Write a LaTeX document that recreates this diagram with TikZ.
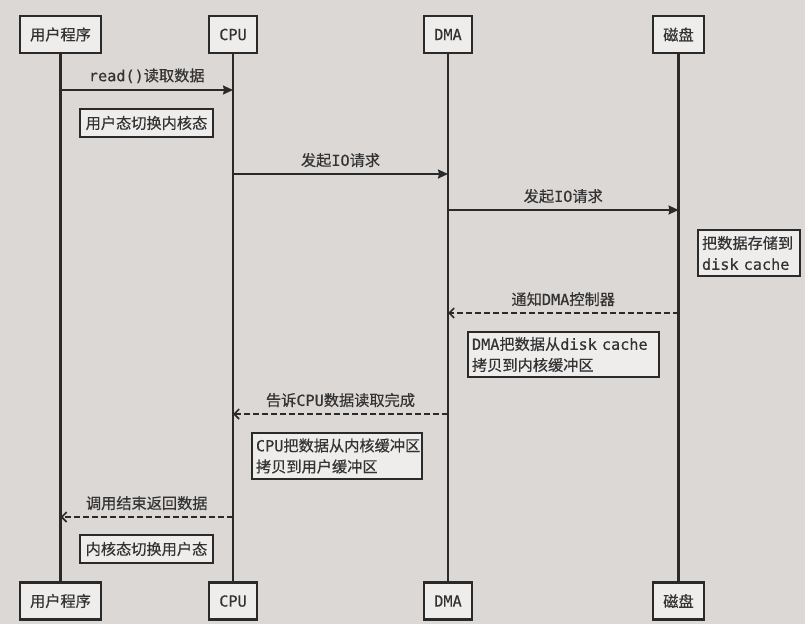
\documentclass[tikz,border=0pt]{standalone}
\usepackage{fontspec}
\setmainfont{Noto Sans CJK SC}[FakeBold=0.4]
\setmonofont{DejaVu Sans Mono}[FakeBold=0.4]
\usetikzlibrary{arrows.meta}
\definecolor{bg}{HTML}{DBD8D6}
\definecolor{boxfill}{HTML}{EEEDEC}
\definecolor{ink}{HTML}{2A2A2A}
\definecolor{txt}{HTML}{333333}
\tikzset{
  actor/.style={draw=ink, line width=2.2pt, fill=boxfill, minimum height=37pt, inner sep=0pt, text=txt, font=\fontsize{15.2}{18}\selectfont},
  note/.style={draw=ink, line width=2pt, fill=boxfill, align=left, inner sep=0pt, text=txt, font=\fontsize{15.2}{21}\selectfont},
  life/.style={ink, line width=2.2pt},
  msg/.style={ink, line width=1.6pt, -{Stealth[length=10pt,width=9pt,inset=1pt]}},
  ret/.style={ink, line width=1.6pt, dash pattern=on 6pt off 3pt, -{Straight Barb[length=5pt,width=10pt]}},
  lbl/.style={font=\fontsize{15.2}{18}\selectfont, inner sep=0pt, text=txt}
}
\begin{document}
\begin{tikzpicture}[x=1pt,y=-1pt]
\fill[bg] (0,0) rectangle (805,624);
\useasboundingbox (0,0) rectangle (805,624);
% actors top
\node[actor, minimum width=81pt] (u1) at (60.5,34.5) {用户程序};
\node[actor, minimum width=48pt] (c1) at (233,34.5) {\texttt{CPU}};
\node[actor, minimum width=48pt] (d1) at (448,34.5) {\texttt{DMA}};
\node[actor, minimum width=51pt] (k1) at (678.5,34.5) {磁盘};
% actors bottom
\node[actor, minimum width=81pt] (u2) at (60.5,601) {用户程序};
\node[actor, minimum width=48pt] (c2) at (233,601) {\texttt{CPU}};
\node[actor, minimum width=48pt] (d2) at (448,601) {\texttt{DMA}};
\node[actor, minimum width=51pt] (k2) at (678.5,601) {磁盘};
% lifelines
\draw[life] (u1.south) -- (u2.north);
\draw[life] (c1.south) -- (c2.north);
\draw[life] (d1.south) -- (d2.north);
\draw[life] (k1.south) -- (k2.north);
% message y-levels
\coordinate (m1) at (0,90);
\coordinate (m2) at (0,174);
\coordinate (m3) at (0,210);
\coordinate (m4) at (0,313);
\coordinate (m5) at (0,414);
\coordinate (m6) at (0,517);
% messages
\draw[msg] (u1.south |- m1) -- node[lbl, above=6pt] {\texttt{read()}读取数据} (c1.south |- m1);
\node[note, minimum width=133pt, minimum height=28pt] (n1) at (146.5,123) {用户态切换内核态};
\draw[msg] (c1.south |- m2) -- node[lbl, above=6pt] {发起\texttt{IO}请求} (d1.south |- m2);
\draw[msg] (d1.south |- m3) -- node[lbl, above=6pt] {发起\texttt{IO}请求} (k1.south |- m3);
\node[note, minimum width=102pt, minimum height=46pt, text width=94pt] (n2) at (749,253) {把数据存储到\\\texttt{disk cache}};
\draw[ret] (k1.south |- m4) -- node[lbl, above=6pt] {通知\texttt{DMA}控制器} (d1.south |- m4);
\node[note, minimum width=191pt, minimum height=45pt, text width=183pt] (n3) at (563.5,354.5) {\texttt{DMA}把数据从\texttt{disk cache}\\拷贝到内核缓冲区};
\draw[ret] (d1.south |- m5) -- node[lbl, above=6pt] {告诉\texttt{CPU}数据读取完成} (c1.south |- m5);
\node[note, minimum width=170pt, minimum height=46pt, text width=162pt] (n4) at (337,456) {\texttt{CPU}把数据从内核缓冲区\\拷贝到用户缓冲区};
\draw[ret] (c1.south |- m6) -- node[lbl, above=6pt] {调用结束返回数据} (u1.south |- m6);
\node[note, minimum width=133pt, minimum height=28pt] (n5) at (146.5,549) {内核态切换用户态};
\end{tikzpicture}
\end{document}
